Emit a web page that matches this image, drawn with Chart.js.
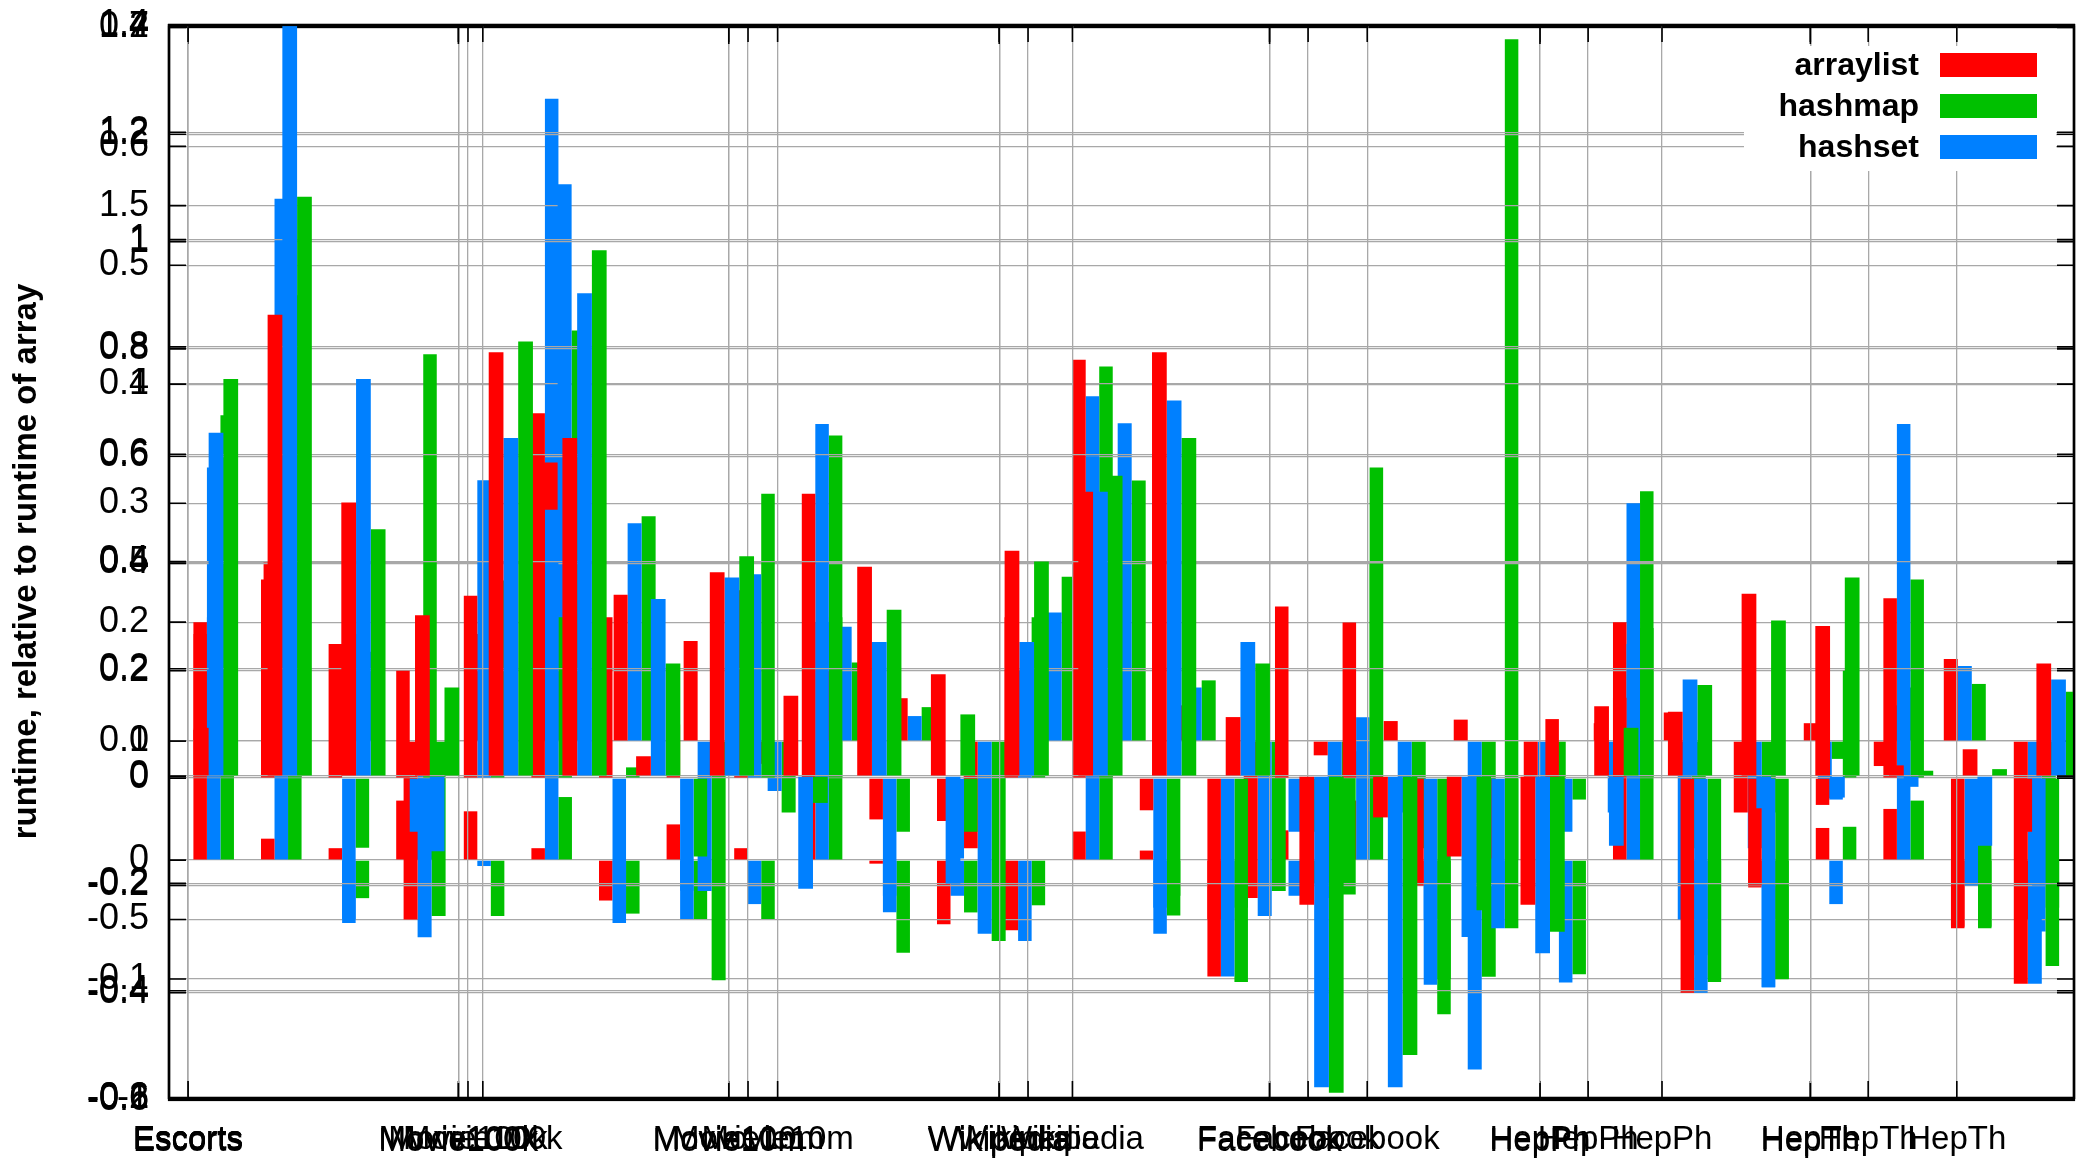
<!DOCTYPE html>
<html>
<head>
<meta charset="utf-8">
<script src="https://cdn.jsdelivr.net/npm/chart.js@4.4.1/dist/chart.umd.min.js"></script>
<style>
  html, body { margin: 0; padding: 0; background: #fff; }
  #wrap { position: relative; width: 2087px; height: 1160px; overflow: hidden; }
  #wrap canvas { position: absolute; left: 0; top: 0; }
  #wrap #plotD { top: 2px; }
</style>
</head>
<body>
<div id="wrap">
  <canvas id="plotA" width="2087" height="1160"></canvas>
  <canvas id="plotB" width="2087" height="1160"></canvas>
  <canvas id="plotD" width="2087" height="1160"></canvas>
  <canvas id="plotC" width="2087" height="1160"></canvas>
</div>
<script>
// four gnuplot histograms that ended up drawn on top of each other
const setNames = ['Escorts', 'Movie100k', 'Movie10m', 'Wikipedia', 'Facebook', 'HepPh', 'HepTh'];
const rowsPerSet = 4;

// plot A
const aArraylist = [0.20, 0.018, 0.01, 0.05, 0.041, 0.01, -0.034, 0.03, 0.01, 0.05, -0.003, -0.054, -0.059, 0.024, 0.008, -0.05, 0.025, 0.05, -0.02, -0.01, -0.02, 0.20, -0.05, -0.023, 0.027, 0.043, -0.056, -0.05];
const aHashset = [0.33, 0.15, -0.05, 0.03, -0.005, 0.64, -0.02, -0.05, -0.037, 0.2, -0.03, -0.03, -0.068, 0.39, -0.04, -0.05, -0.03, 0.12, -0.05, -0.02, -0.103, 0.30, -0.08, -0.107, -0.037, 0.1, -0.02, -0.06];
const aHashmap = [0.374, 0.2, -0.032, 0.06, -0.047, 0.053, -0.045, -0.05, -0.05, 0.357, -0.078, -0.044, -0.038, 0.415, -0.03, -0.04, -0.02, 0.33, -0.1, 0.69, -0.096, 0.31, -0.1, -0.1, 0.028, 0.05, -0.056, -0.04];
const aTicks = [-0.2, -0.1, 0, 0.1, 0.2, 0.3, 0.4, 0.5, 0.6, 0.7];

// plot B
const bArraylist = [0.3, 0.5, 0.08, -0.50, 0.3, 0.78, 0.41, 0.28, -0.064, 0.2, 0.12, -0.3, 0.27, 0.5, 0.1, -0.44, -0.04, 0.056, 0.06, -0.1, 0.05, 0.08, -0.2, 0.05, -0.07, 0.23, -0.68];
const bHashset = [0.5, 1.0, 0.3, -0.55, 0.4, 1.56, 0.61, -0.42, -0.14, 0.32, 0.07, -0.54, 0.36, 0.89, 0.15, -0.49, -0.44, -0.2, -0.92, -0.2, -0.2, -0.5, -0.3, -0.16, 0.1, 0.21, -0.68];
const bHashmap = [0.55, 0.9, 0.25, -0.49, 0.45, 1.15, 0.63, -0.67, -0.2, 0.22, 0.095, -0.56, 0.46, 0.73, 0.17, -0.42, -0.43, -0.3, -0.66, -0.15, 0.02, -0.3, -0.2, -0.05, 0.15, 0.16, -0.4];
const bTicks = [-1, -0.5, 0, 0.5, 1, 1.5, 2];

// plot C
const cArraylist = [0.09, 0.86, 0.51, 0.30, 0.79, 0.63, 0.037, 0.38, 0.15, 0.39, 0.19, 0.42, 0.53, 0.79, 0.11, -0.24, -0.077, -0.15, -0.24, 0.13, 0.12, 0.34, 0.28, 0.02, 0.05, 0.21];
const cHashset = [0.64, 1.40, 0.74, -0.14, 0.63, 0.90, 0.33, 0.37, -0.21, 0.25, -0.2, 0.25, 0.53, 0.70, 0.25, -0.58, -0.58, -0.3, -0.33, -0.13, 0.18, -0.06, -0.04, -0.02, -0.13, 0.18];
const cHashmap = [0.74, 1.08, 0.46, 0.165, 0.81, 0.98, 0.21, 0.41, -0.05, 0.31, 0.115, 0.40, 0.56, 0.63, 0.21, -0.59, -0.52, -0.25, -0.29, 0.09, 0.17, 0.29, 0.37, 0.01, 0.013, 0.157];
const cTicks = [-0.6, -0.4, -0.2, 0, 0.2, 0.4, 0.6, 0.8, 1, 1.2, 1.4];

// plot D (same axes as C, the whole plot sits 2px lower)
const dArraylist = [0.09, 0.37, 0.25, 0.2, 0.34, 0.68, 0.30, 0.1, 0.35, 0.53, -0.077, -0.08, 0.3, 0.78, -0.06, -0.37, 0.32, 0.29, -0.2, -0.15, 0.11, 0.15, -0.40, -0.2, -0.05, 0.335, -0.28, -0.1];
const dHashset = [0.3, 1.08, -0.27, -0.1, 0.555, 0.5, -0.27, -0.21, 0.38, 0.66, -0.25, -0.15, 0.2, 0.6, -0.29, -0.37, -0.1, 0.05, -0.385, -0.28, -0.1, 0.25, -0.40, -0.39, -0.04, 0.66, -0.2, -0.2];
const dHashmap = [0.4, 0.9, -0.13, 0.79, 0.1, 0.3, 0.02, -0.146, 0.53, 0.3, -0.1, -0.1, 0.3, 0.5, -0.256, -0.38, -0.1, 0.4, -0.44, -0.28, -0.04, 0.28, -0.38, -0.375, 0.2, 0.37, -0.28, -0.35];
const dTicks = [-0.6, -0.4, -0.2, 0, 0.2, 0.4, 0.6, 0.8, 1, 1.2, 1.4];

const FONT = '"Liberation Sans", Arial, Helvetica, sans-serif';
const COLORS = { arraylist: '#ff0000', hashmap: '#00c000', hashset: '#0080ff' };
const GRID = '#a8a8a8';
const clusterShift = 0.38;   // tic sits left of the cluster centre

const fmt = v => String(Number(v.toFixed(2)));

// gnuplot style border with inward tics on all four sides
const frame = {
  id: 'frame',
  afterDraw(chart) {
    const { ctx, chartArea: a, scales } = chart;
    ctx.save();
    ctx.strokeStyle = '#000';
    ctx.lineWidth = 1.6;
    ctx.beginPath();
    scales.y.ticks.forEach(t => {
      const y = scales.y.getPixelForValue(t.value);
      ctx.moveTo(a.left, y); ctx.lineTo(a.left + 17, y);
      ctx.moveTo(a.right - 17, y); ctx.lineTo(a.right, y);
    });
    scales.x.ticks.forEach(t => {
      const x = scales.x.getPixelForValue(t.value);
      ctx.moveTo(x, a.bottom); ctx.lineTo(x, a.bottom - 17);
      ctx.moveTo(x, a.top); ctx.lineTo(x, a.top + 17);
    });
    ctx.stroke();
    ctx.lineWidth = 2.2;
    ctx.strokeRect(a.left, a.top, a.right - a.left, a.bottom - a.top);
    ctx.restore();
  }
};

// opaque key in the top right corner
const keyOrder = ['arraylist', 'hashmap', 'hashset'];
const key = {
  id: 'key',
  afterDraw(chart) {
    const { ctx, chartArea: a } = chart;
    ctx.save();
    ctx.fillStyle = '#fff';
    ctx.fillRect(a.right - 330, a.top + 21, 312, 125);
    ctx.font = 'bold 32px ' + FONT;
    ctx.textAlign = 'right';
    ctx.textBaseline = 'middle';
    keyOrder.forEach((name, i) => {
      const y = a.top + 40 + i * 41;
      ctx.fillStyle = '#000';
      ctx.fillText(name, a.right - 155, y + 1);
      ctx.fillStyle = COLORS[name];
      ctx.fillRect(a.right - 134, y - 12, 97, 24);
    });
    ctx.restore();
  }
};

function makePlot(id, p, top) {
  const pts = arr => arr.map((v, i) => ({ x: i, y: v }));
  return new Chart(document.getElementById(id), {
    type: 'bar',
    data: {
      datasets: [
        { label: 'arraylist', data: pts(p.arraylist), backgroundColor: COLORS.arraylist },
        { label: 'hashset', data: pts(p.hashset), backgroundColor: COLORS.hashset },
        { label: 'hashmap', data: pts(p.hashmap), backgroundColor: COLORS.hashmap }
      ]
    },
    options: {
      responsive: false,
      animation: false,
      devicePixelRatio: 1,
      events: [],
      layout: { padding: { top: 25, right: 13, left: 0, bottom: 0 } },
      datasets: { bar: { categoryPercentage: 0.6, barPercentage: 1.0, borderWidth: 0 } },
      plugins: { legend: { display: false }, tooltip: { enabled: false } },
      scales: {
        x: {
          type: 'linear',
          offset: false,
          min: p.xMin,
          max: p.xMax,
          afterBuildTicks: s => { s.ticks = setNames.map((n, k) => ({ value: k * rowsPerSet - clusterShift })); },
          afterFit: s => { s.height = 62; s.paddingLeft = 0; s.paddingRight = 0; },
          ticks: {
            callback: (v, i) => setNames[i],
            autoSkip: false, maxRotation: 0, minRotation: 0,
            padding: 22, color: '#000',
            font: { family: FONT, size: 33 }
          },
          grid: { color: GRID, lineWidth: 1.3, drawTicks: false, offset: false },
          border: { display: false }
        },
        y: {
          min: p.yMin,
          max: p.yMax,
          afterBuildTicks: s => { s.ticks = p.yTicks.map(v => ({ value: v })); },
          afterFit: s => { s.width = 169; s.paddingTop = 0; s.paddingBottom = 0; },
          ticks: {
            callback: v => fmt(v),
            padding: 20, color: '#000',
            font: { family: FONT, size: 36 }
          },
          grid: { color: GRID, lineWidth: 1.3, drawTicks: false },
          border: { display: false },
          title: {
            display: top,
            text: 'runtime, relative to runtime of array',
            color: '#000',
            font: { family: FONT, size: 33, weight: 'bold' },
            padding: { top: 7, bottom: 0 }
          }
        }
      }
    },
    plugins: top ? [frame, key] : [frame]
  });
}

makePlot('plotA', { arraylist: aArraylist, hashset: aHashset, hashmap: aHashmap,
  xMin: -0.661, xMax: 27.52, yMin: -0.2, yMax: 0.702, yTicks: aTicks }, false);
makePlot('plotB', { arraylist: bArraylist, hashset: bHashset, hashmap: bHashmap,
  xMin: -0.651, xMax: 26.56, yMin: -1, yMax: 2.006, yTicks: bTicks }, false);
makePlot('plotD', { arraylist: dArraylist, hashset: dHashset, hashmap: dHashmap,
  xMin: -0.661, xMax: 27.52, yMin: -0.6, yMax: 1.4, yTicks: dTicks }, false);
makePlot('plotC', { arraylist: cArraylist, hashset: cHashset, hashmap: cHashmap,
  xMin: -0.638, xMax: 25.21, yMin: -0.6, yMax: 1.4, yTicks: cTicks }, true);
</script>
</body>
</html>
